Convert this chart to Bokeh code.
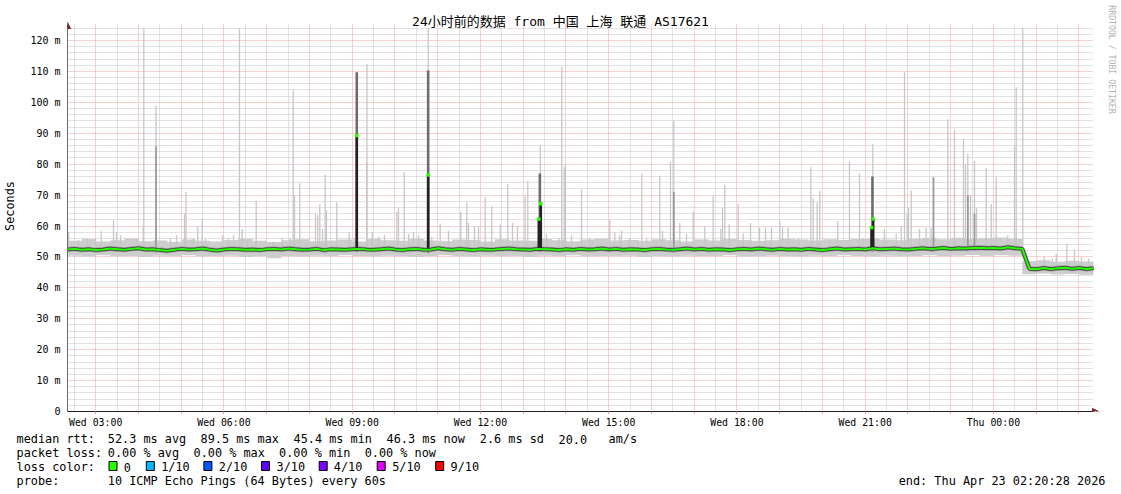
import math
import numpy as np
from bokeh.plotting import figure
from bokeh.models import FixedTicker, Range1d, Label, Arrow, NormalHead
from bokeh.layouts import column
from bokeh.embed import file_html
from bokeh.resources import INLINE
from bokeh.core.properties import value

# ---------------- data ----------------
title_text = "24小时前的数据 from 中国 上海 联通 AS17621"
y_axis_title = "Seconds"
watermark_text = "RRDTOOL / TOBI OETIKER"

start_hour = 2 + 20 / 60 + 28 / 3600      # Wed 02:20:28 (hours since Wed 00:00)
span_hours = 24

x_tick_hours = [3, 6, 9, 12, 15, 18, 21, 24]
x_tick_labels = ["Wed 03:00", "Wed 06:00", "Wed 09:00", "Wed 12:00",
                 "Wed 15:00", "Wed 18:00", "Wed 21:00", "Thu 00:00"]
y_ticks = [0, 10, 20, 30, 40, 50, 60, 70, 80, 90, 100, 110, 120]
y_tick_labels = ["0", "10 m", "20 m", "30 m", "40 m", "50 m", "60 m", "70 m",
                 "80 m", "90 m", "100 m", "110 m", "120 m"]

# median rtt (ms), one value every 10 minutes
median_ms = [
    52.4, 52.6, 52.3, 52.5, 52.2, 52.4, 52.7, 52.5, 52.3, 52.6,
    52.8, 52.4, 52.5, 52.2, 52.0, 52.3, 52.6, 52.4, 52.5, 52.7,
    52.3, 52.1, 52.4, 52.6, 52.5, 52.3, 52.4, 52.2, 52.5, 52.6,
    52.4, 52.7, 52.5, 52.3, 52.4, 52.6, 52.2, 52.5, 52.4, 52.3,
    52.5, 52.6, 52.4, 52.3, 52.5, 52.7, 52.4, 52.2, 52.5, 52.6,
    52.3, 52.4, 52.8, 52.5, 52.3, 52.6, 52.4, 52.2, 52.5, 52.3,
    52.4, 52.6, 52.7, 52.5, 52.4, 52.3, 52.6, 52.5, 52.4, 52.2,
    52.5, 52.3, 52.6, 52.4, 52.5, 52.7, 52.4, 52.6, 52.3, 52.5,
    52.4, 52.2, 52.5, 52.6, 52.4, 52.3, 52.5, 52.7, 52.4, 52.6,
    52.3, 52.5, 52.4, 52.2, 52.5, 52.6, 52.4, 52.7, 52.5, 52.3,
    52.6, 52.4, 52.5, 52.3, 52.6, 52.4, 52.2, 52.5, 52.7, 52.4,
    52.5, 52.6, 52.4, 52.8, 52.5, 52.6, 52.7, 52.5, 52.4, 52.6,
    52.8, 52.6, 52.7, 52.9, 52.6, 52.8, 52.7, 52.9, 53.0, 52.8,
    52.9, 52.7, 53.1, 52.8, 52.6,
    46.2, 46.0, 46.4, 46.1, 46.3, 46.5, 46.2, 46.4, 46.1, 46.3,
]

# smoke band limits (ms), one value every 20 minutes
band_hi = [
    55.2, 55.8, 55.0, 55.4, 56.0, 55.1, 55.3, 54.9, 55.6, 55.2,
    55.0, 55.5, 55.9, 55.2, 54.8, 55.4, 55.7, 55.1, 55.3, 55.6,
    55.0, 55.8, 55.4, 55.2, 55.9, 55.3, 55.1, 55.6, 55.5, 55.0,
    55.7, 55.3, 55.2, 55.8, 55.4, 55.1, 55.6, 55.9, 55.3, 55.5,
    55.2, 55.7, 55.4, 55.0, 55.6, 55.3, 55.8, 55.5, 55.2, 55.4,
    55.9, 55.6, 55.3, 55.7, 55.5, 55.8, 56.0, 55.6, 55.4, 55.9,
    56.1, 55.7, 56.2, 55.8, 56.0, 56.3, 55.9,
    48.6, 48.9, 48.4, 48.8, 48.5, 48.7,
]
band_lo = [
    50.4, 50.1, 50.5, 50.2, 50.3, 50.0, 50.4, 50.2, 50.5, 50.1,
    50.3, 50.4, 50.0, 50.2, 49.6, 50.3, 50.1, 50.4, 50.2, 50.5,
    50.3, 50.1, 50.4, 50.2, 50.0, 50.3, 50.5, 50.2, 50.1, 50.4,
    50.2, 50.3, 50.0, 50.4, 50.2, 50.5, 50.1, 50.3, 50.2, 50.4,
    50.0, 50.3, 50.1, 50.4, 50.2, 50.3, 50.5, 50.1, 50.2, 50.4,
    50.3, 50.1, 50.4, 50.2, 50.5, 50.3, 50.1, 50.4, 50.2, 50.3,
    50.5, 50.2, 50.4, 50.6, 50.3, 50.5, 50.4,
    44.4, 44.6, 44.3, 44.5, 44.2, 44.5,
]

# light smoke spikes (hour, highest ping ms)
spike_hours = [
    2.371, 2.598, 2.809, 2.996, 3.130, 3.417, 3.487, 3.581, 3.979, 4.112,
    4.126, 4.411, 4.411, 4.750, 4.891, 5.078, 5.113, 5.289, 5.389, 5.492,
    5.569, 5.967, 6.107, 6.224, 6.364, 6.428, 6.545, 6.755, 7.160, 7.363,
    7.557, 7.621, 7.651, 7.775, 7.948, 8.142, 8.196, 8.243, 8.306, 8.369,
    8.399, 8.640, 8.930, 9.047, 9.342, 9.346, 9.468, 9.616, 9.756, 10.044,
    10.084, 10.217, 10.318, 10.435, 10.552, 10.863, 11.059, 11.253, 11.541, 11.681,
    11.721, 11.861, 11.955, 12.112, 12.266, 12.463, 12.641, 12.750, 12.867, 13.047,
    13.108, 13.546, 13.843, 13.904, 13.960, 13.990, 14.130, 14.364, 14.552, 14.622,
    15.026, 15.143, 15.253, 15.300, 15.487, 15.691, 15.775, 15.885, 16.119, 16.196,
    16.259, 16.446, 16.524, 16.524, 16.664, 16.821, 16.977, 17.249, 17.445, 17.623,
    17.663, 17.717, 17.819, 18.030, 18.147, 18.318, 18.528, 18.669, 18.809, 19.003,
    19.066, 19.199, 19.440, 19.728, 19.784, 19.878, 19.939, 20.166, 20.360, 20.633,
    20.867, 20.945, 21.452, 21.726, 21.843, 21.920, 21.983, 22.014, 22.077, 22.271,
    22.428, 22.545, 22.598, 22.933, 23.090, 23.300, 23.347, 23.401, 23.401, 23.464,
    23.557, 23.557, 23.604, 23.831, 23.948, 24.065, 24.336, 24.493, 24.533, 24.687,
    24.984, 25.188, 25.382, 25.469, 25.717, 25.897, 26.060, 26.224,
    10.778, 13.400, 21.180,
]
spike_tops = [
    58, 55.5, 56, 56, 58.3, 61.8, 58, 57, 55.5, 59.6,
    124, 99, 85.7, 56, 57, 64, 71, 56, 59.8, 62.4,
    56, 57, 56, 57, 124, 59, 55.5, 68.2, 55, 56,
    56, 104, 70, 73.8, 55, 64, 63.5, 67, 59, 76.6,
    65, 67.7, 58, 56, 80.5, 112.4, 58, 56.5, 57, 64.5,
    66, 77.4, 57.5, 58, 57, 56.5, 60.8, 58.5, 64.5, 67.7,
    61, 60, 60, 69.3, 66.5, 60.5, 73.6, 61, 60, 69.7,
    74.5, 57.5, 56, 111.4, 79, 80, 57, 71.8, 56, 55.5,
    62, 58, 57, 58.5, 56, 55.5, 76.9, 56, 55.5, 76.3,
    58.5, 80.9, 93.9, 71, 61, 57.5, 64.7, 60, 69.9, 59,
    66, 73.3, 60.5, 67, 57.5, 61, 59.5, 59.5, 59.5, 61.5,
    60, 59.5, 56, 79, 69, 67.6, 71.3, 55.5, 61.5, 80.9,
    76.9, 56, 59, 57.5, 60, 109.7, 64, 66, 71.5, 59,
    59.5, 59.5, 75.8, 94.5, 91.1, 88.2, 80, 83.3, 70, 70,
    81.2, 64, 66, 78.8, 67, 75.8, 57, 85.7, 104.9, 124,
    48.5, 50, 49.5, 51, 54.2, 52.4, 50, 49.5,
    124, 86.2, 86.6,
]

# denser smoke (several pings high)
dense_hours = [4.411, 16.524, 22.598, 23.401, 23.557]
dense_tops = [85.7, 71.0, 75.8, 70.0, 64.0]

# darkest smoke around the high-median samples
dark_hours = [9.108, 10.778, 13.390, 21.170]
dark_tops = [109.7, 110.3, 77.0, 76.0]

# samples whose median itself was high
med_spike_hours = [9.108, 10.778, 13.366, 13.412, 21.148, 21.188]
med_spike_vals = [89.3, 76.5, 62.3, 67.2, 59.5, 62.3]

# legend
median_stats = ["median rtt:", "52.3 ms avg", "89.5 ms max", "45.4 ms min",
                "46.3 ms now", "2.6 ms sd", "20.0", "am/s"]
loss_stats = ["packet loss:", "0.00 % avg", "0.00 % max", "0.00 % min", "0.00 % now"]
loss_labels = ["0", "1/10", "2/10", "3/10", "4/10", "5/10", "9/10"]
loss_colors = ["#26ff00", "#00b8ff", "#0059ff", "#5e00ff", "#7e00ff", "#dd00ff", "#ff0000"]
probe_text = ["probe:", "10 ICMP Echo Pings (64 Bytes) every 60s"]
end_text = "end: Thu Apr 23 02:20:28 2026"

# ---------------- styling / layout ----------------
MONO = "DejaVu Sans Mono"
TITLE_FONT = "'DejaVu Sans Mono', 'Noto Sans CJK SC'"
RED_GRID = "#f3a3a3"
GREY_GRID = "#c4c4c4"
ARROW_RED = "#7f1f1f"

PX_PER_HOUR = 1026 / 24.0        # plot area 67..1093 px
PX_PER_MS = 371 / 120.0          # 0 at y=411, 120 at y=40
FIG_W, MAIN_H, LEG_H = 1120, 430, 60
FRAME_L, FRAME_B = 67, 411

end_hour = start_hour + span_hours
plot_top = (FRAME_B - 24) / PX_PER_MS                      # top of the drawn grid
x_view_end = start_hour + (FIG_W - FRAME_L) / PX_PER_HOUR  # frame runs to canvas edge
y_view_top = FRAME_B / PX_PER_MS                           # frame runs to canvas top

p = figure(width=FIG_W, height=MAIN_H,
           x_range=Range1d(start_hour, x_view_end), y_range=Range1d(0, y_view_top),
           output_backend="svg", toolbar_location=None,
           min_border_left=FRAME_L, min_border_right=0, min_border_top=0,
           min_border_bottom=MAIN_H - FRAME_B,
           outline_line_color=None, background_fill_color="white", border_fill_color="white")
p.frame_align = False

# axes
p.yaxis.ticker = FixedTicker(ticks=y_ticks, minor_ticks=[])
p.yaxis.major_label_overrides = {float(t): l for t, l in zip(y_ticks, y_tick_labels)}
p.yaxis.bounds = (0, plot_top)
p.yaxis.axis_line_color = "#6a6a6a"
p.yaxis.major_tick_line_color = None
p.yaxis.minor_tick_line_color = None
p.yaxis.major_tick_out = 0
p.yaxis.major_tick_in = 0
p.yaxis.major_label_text_font = MONO
p.yaxis.major_label_text_font_size = "10px"
p.yaxis.major_label_text_color = "black"
p.yaxis.major_label_standoff = 7
p.yaxis.axis_label = y_axis_title
p.yaxis.axis_label_text_font = MONO
p.yaxis.axis_label_text_font_size = "11.85px"
p.yaxis.axis_label_text_font_style = "normal"
p.yaxis.axis_label_text_color = "black"
p.yaxis.axis_label_standoff = 10

hour_marks = list(range(3, 27))
half_marks = [h + 0.5 for h in range(2, 26)]
p.xaxis.ticker = FixedTicker(ticks=x_tick_hours, minor_ticks=hour_marks)
p.xaxis.major_label_overrides = {float(h): l for h, l in zip(x_tick_hours, x_tick_labels)}
p.xaxis.bounds = (start_hour, end_hour)
p.xaxis.axis_line_color = "#1f1f1f"
p.xaxis.major_tick_line_color = "#e08a8a"
p.xaxis.minor_tick_line_color = "#e08a8a"
p.xaxis.major_tick_out = 2
p.xaxis.major_tick_in = 0
p.xaxis.minor_tick_out = 2
p.xaxis.minor_tick_in = 0
p.xaxis.major_label_text_font = MONO
p.xaxis.major_label_text_font_size = "9.85px"
p.xaxis.major_label_text_color = "black"
p.xaxis.major_label_standoff = 3

# grids
p.xgrid.ticker = FixedTicker(ticks=hour_marks, minor_ticks=half_marks)
p.xgrid.bounds = (start_hour, end_hour)
p.xgrid.cross_bounds = (0, plot_top)
p.xgrid.grid_line_color = RED_GRID
p.xgrid.grid_line_dash = "1 1"
p.xgrid.minor_grid_line_color = GREY_GRID
p.xgrid.minor_grid_line_dash = "1 1"
p.ygrid.ticker = FixedTicker(ticks=y_ticks[1:],
                             minor_ticks=[v for v in range(2, 126, 2) if v % 10 != 0])
p.ygrid.bounds = (0, plot_top)
p.ygrid.cross_bounds = (start_hour, end_hour)
p.ygrid.grid_line_color = RED_GRID
p.ygrid.grid_line_dash = "1 1"
p.ygrid.minor_grid_line_color = GREY_GRID
p.ygrid.minor_grid_line_dash = "1 1"

# series
med_hours = start_hour + np.arange(len(median_ms)) / 6.0
band_hours = start_hour + np.arange(len(band_hi)) / 3.0

p.varea_step(x=band_hours, y1=band_lo, y2=band_hi, step_mode="after",
             fill_color="#cdcdcd")

sh = np.array(spike_hours)
p.vbar(x=sh, bottom=np.interp(sh, med_hours, median_ms) - 1.0, top=spike_tops, width=0.03,
       fill_color="#c6c6c6", line_color=None)

dh = np.array(dense_hours)
p.vbar(x=dh, bottom=np.interp(dh, med_hours, median_ms) - 1.0, top=dense_tops,
       width=0.04, fill_color="#9a9a9a", line_color=None)

kh = np.array(dark_hours)
p.vbar(x=kh, bottom=np.interp(kh, med_hours, median_ms) - 1.0, top=dark_tops,
       width=0.06, fill_color="#6c6c6c", line_color=None)

p.line(med_hours, median_ms, line_width=5, line_color="#9a9a9a")
p.line(med_hours, median_ms, line_width=3.5, line_color="#3a3a3a")

mh = np.array(med_spike_hours)
p.vbar(x=mh, bottom=np.interp(mh, med_hours, median_ms), top=med_spike_vals,
       width=0.06, fill_color="#232323", line_color=None)

p.line(med_hours, median_ms, line_width=2, line_color="#26ff00")
p.scatter(x=mh, y=med_spike_vals, marker="square", size=3.5,
          fill_color="#26ff00", line_color=None)

# axis arrows
arrow_len = 6
p.add_layout(Arrow(end=NormalHead(size=arrow_len, fill_color=ARROW_RED, line_color=ARROW_RED),
                   x_start=start_hour, y_start=plot_top - 1,
                   x_end=start_hour, y_end=plot_top + 2 / PX_PER_MS,
                   line_color=None))
p.add_layout(Arrow(end=NormalHead(size=arrow_len, fill_color=ARROW_RED, line_color=ARROW_RED),
                   x_start=end_hour - 0.05, y_start=0,
                   x_end=end_hour + 5 / PX_PER_HOUR, y_end=0,
                   line_color=None))

# title and watermark (screen units, relative to the frame's lower-left corner)
p.add_layout(Label(x=560 - FRAME_L, y=FRAME_B - 21, x_units="screen", y_units="screen",
                   text=title_text, text_align="center", text_baseline="middle",
                   text_font=TITLE_FONT, text_font_size="13px", text_color="black"))
p.add_layout(Label(x=1111 - FRAME_L, y=FRAME_B - 59, x_units="screen", y_units="screen",
                   text=watermark_text, angle=-math.pi / 2,
                   text_align="center", text_baseline="middle",
                   text_font=MONO, text_font_size="8.2px", text_color="#b4b4b4"))

# ---------------- legend panel ----------------
q = figure(width=FIG_W, height=LEG_H, x_range=Range1d(0, FIG_W),
           y_range=Range1d(MAIN_H + LEG_H, MAIN_H),
           output_backend="svg", toolbar_location=None, min_border=0,
           x_axis_type=None, y_axis_type=None, outline_line_color=None,
           background_fill_color="white", border_fill_color="white")
q.frame_align = False

font = value(MONO)
fsize = value("11.85px")
ROW_Y = [438.5, 452.5, 466.5, 480.5]
row1_x = [16, 107.3, 200.0, 293.0, 386.0, 479.3, 558.0, 608.0]
q.text(x=row1_x, y=[ROW_Y[0]] * len(median_stats), text=median_stats, text_font=font,
       text_font_size=fsize, text_baseline="alphabetic", text_color="black")
row2_x = [16, 107.3, 193.0, 278.6, 364.2]
q.text(x=row2_x, y=[ROW_Y[1]] * len(loss_stats), text=loss_stats, text_font=font,
       text_font_size=fsize, text_baseline="alphabetic", text_color="black")
q.text(x=[16], y=[ROW_Y[2]], text=["loss color:"], text_font=font,
       text_font_size=fsize, text_baseline="alphabetic", text_color="black")
box_x = [112.5, 149.8, 207.4, 265.0, 322.7, 380.7, 439.2]
label_x = [123.3, 160.7, 218.3, 276.0, 333.3, 391.7, 450.0]
q.rect(x=box_x, y=[465.5] * len(loss_colors), width=8, height=9,
       fill_color=loss_colors, line_color="black", line_width=1)
q.text(x=label_x, y=[ROW_Y[2]] * len(loss_labels), text=loss_labels, text_font=font,
       text_font_size=fsize, text_baseline="alphabetic", text_color="black")
q.text(x=[16, 107.3], y=[ROW_Y[3], ROW_Y[3]], text=probe_text, text_font=font,
       text_font_size=fsize, text_baseline="alphabetic", text_color="black")
q.text(x=[1105], y=[ROW_Y[3]], text=[end_text], text_font=font, text_font_size=fsize,
       text_baseline="alphabetic", text_align="right", text_color="black")

layout = column(p, q, spacing=0)
open("out.html", "w").write(file_html(layout, INLINE))
